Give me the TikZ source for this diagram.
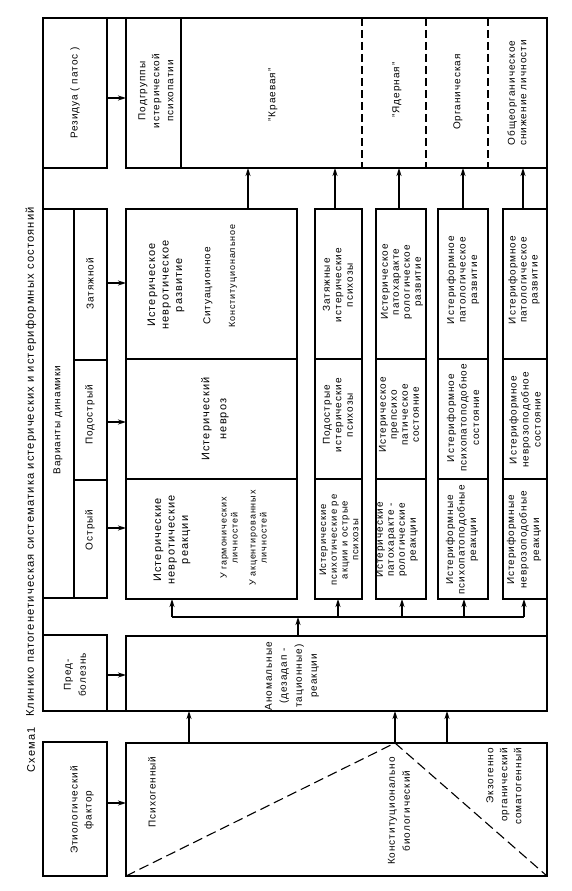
\documentclass[tikz,border=0pt]{standalone}
\usepackage{fontspec}
\setmainfont{Liberation Sans}[LetterSpace=10]
\usetikzlibrary{arrows.meta}
\begin{document}
\begin{tikzpicture}[x=1pt,y=-1pt,
  bx/.style={draw, line width=1.3pt, inner sep=0pt, outer sep=0pt},
  ln/.style={line width=1.3pt},
  dl/.style={line width=1.1pt, dash pattern=on 8pt off 4pt},
  tri/.style={line width=1.1pt, dash pattern=on 10pt off 5pt},
  arr/.style={-{Stealth[length=8pt,width=5pt]}, line width=1.5pt},
  bar/.style={line width=1.5pt},
  lbl/.style={rotate=90, align=center, inner sep=0pt, font=\fontsize{10}{11.5}\selectfont},
  lbig/.style={lbl, font=\fontsize{11}{13.5}\selectfont},
  lsmall/.style={lbl, font=\fontsize{9}{11}\selectfont},
]
\useasboundingbox (0,0) rectangle (572,891);
\fill[white] (0,0) rectangle (572,891);

% title
\node[lbl, font=\fontsize{11}{12}\selectfont] (t1) at (31,750) {Схема1};
\node[lbl, font=\fontsize{11.2}{12}\selectfont] (t2) at (31,462) {Клинико патогенетическая систематика истерических и истериформных состояний};

% outer frame
\draw[ln] (43,18) rectangle (547,711);

% header boxes
\node[bx, minimum width=64pt, minimum height=150pt] (hRes) at (75,93) {};
\node[bx, minimum width=64pt, minimum height=389pt] (hDyn) at (75,403.5) {};
\node[bx, minimum width=64pt, minimum height=76pt] (hPre) at (75,673) {};
\node[bx, minimum width=64pt, minimum height=134pt] (hEti) at (75,809) {};
\draw[ln] (74,209) -- (74,598);
\draw[ln] (74,360) -- (107,360);
\draw[ln] (74,480) -- (107,480);

% body boxes
\node[bx, minimum width=421pt, minimum height=150pt] (res) at (336.5,93) {};
\draw[ln] (181,18) -- (181,168);
\draw[dl] (362,18) -- (362,168);
\draw[dl] (426,18) -- (426,168);
\draw[dl] (488,18) -- (488,168);

\node[bx, minimum width=171pt, minimum height=390pt] (r1) at (211.5,404) {};
\node[bx, minimum width=47pt, minimum height=390pt] (r2) at (338.5,404) {};
\node[bx, minimum width=50pt, minimum height=390pt] (r3) at (401,404) {};
\node[bx, minimum width=50pt, minimum height=390pt] (r4) at (463,404) {};
\node[bx, minimum width=44pt, minimum height=390pt] (r5) at (525,404) {};
\foreach \a/\b in {126/297,315/362,376/426,438/488,503/547}{
  \draw[ln] (\a,359) -- (\b,359);
  \draw[ln] (\a,479) -- (\b,479);
}

\node[bx, minimum width=421pt, minimum height=75pt] (pre) at (336.5,673.5) {};
\node[bx, minimum width=421pt, minimum height=133pt] (eti) at (336.5,809.5) {};
\coordinate (peak) at (395,743);
\draw[tri] (eti.south west) -- (peak) -- (eti.south east);

% header arrows
\foreach \yy/\s/\t in {98/hRes/res, 283/hDyn/r1, 422/hDyn/r1, 528/hDyn/r1, 675/hPre/pre, 803/hEti/eti}{
  \coordinate (hy) at (0,\yy);
  \draw[arr] (\s.east |- hy) -- (\t.west |- hy);
}

% etiology -> pre
\foreach \xx in {189,395,447}{
  \coordinate (ex) at (\xx,0);
  \draw[arr] (eti.north -| ex) -- (pre.south -| ex);
}

% pre -> bar -> rows
\coordinate (b1) at (172,617);
\coordinate (b5) at (524,617);
\coordinate (bm) at (298,617);
\draw[bar] (b1) -- (b5);
\draw[arr] (pre.north -| bm) -- (bm);
\foreach \xx/\r in {172/r1,338/r2,402/r3,464/r4,524/r5}{
  \coordinate (bx) at (\xx,617);
  \draw[arr] (bx) -- (\r.south -| bx);
}

% rows -> residua
\foreach \xx/\r in {248/r1,335/r2,399/r3,463/r4,523/r5}{
  \coordinate (rx) at (\xx,0);
  \draw[arr] (\r.north -| rx) -- (res.south -| rx);
}

% header labels
\node[lbl] (lRes) at (75,93) {Резидуа ( патос )};
\node[lbl] (lDyn) at (58,420) {Варианты динамики};
\node[lbl] (lZat) at (90,284) {Затяжной};
\node[lbl] (lPod) at (90,415) {Подострый};
\node[lbl] (lOst) at (90,530) {Острый};
\node[lbl, font=\fontsize{10}{15}\selectfont] (lPre) at (75,675) {Пред-\\болезнь};
\node[lbl, font=\fontsize{10}{14}\selectfont] (lEti) at (82,810) {Этиологический\\фактор};

% residua labels
\node[lbl, font=\fontsize{10}{14}\selectfont] (s1) at (156,91) {Подгруппы\\истерической\\психопатии};
\node[lbl] (s2) at (273,95) {"Краевая"};
\node[lbl] (s3) at (397,90) {"Ядерная"};
\node[lbl] (s4) at (458,92) {Органическая};
\node[lbl] (s5) at (517,93) {Общеорганическое\\снижение личности};

% row 1
\node[lbig] (a1) at (166,285) {Истерическое\\невротическое\\развитие};
\node[lbl] (a2) at (208,286) {Ситуационное};
\node[lsmall] (a3) at (233,276) {Конституциональное};
\node[lbig, font=\fontsize{11}{17}\selectfont] (a4) at (215,419) {Истерический\\невроз};
\node[lbig] (a5) at (172,540) {Истерические\\невротические\\реакции};
\node[lsmall] (a6) at (229,538) {У гармонических\\личностей};
\node[lsmall] (a7) at (258,538) {У акцентированных\\личностей};

% row 2
\node[lbl] (b2z) at (338,285) {Затяжные\\истерические\\психозы};
\node[lbl] (b2p) at (338,415) {Подострые\\истерические\\психозы};
\node[lbl, font=\fontsize{9.5}{10.7}\selectfont] (b2o) at (339,540) {Истерические\\психотические ре\\акции и острые\\психозы};

% row 3
\node[lbl, font=\fontsize{10}{11}\selectfont] (b3z) at (402,282) {Истерическое\\патохаракте\\рологическое\\развитие};
\node[lbl, font=\fontsize{10}{11}\selectfont] (b3p) at (399,415) {Истерическое\\препсихо\\патическое\\состояние};
\node[lbl, font=\fontsize{10}{11}\selectfont] (b3o) at (397,540) {Истерические\\патохаракте -\\рологические\\реакции};

% row 4
\node[lbl] (b4z) at (463,280) {Истериформное\\патологическое\\развитие};
\node[lbl, font=\fontsize{10}{12.5}\selectfont] (b4p) at (463,418) {Истериформное\\психопатоподобное\\состояние};
\node[lbl] (b4o) at (462,540) {Истериформные\\психопатоподобные\\реакции};

% row 5
\node[lbl, font=\fontsize{10}{11}\selectfont] (b5z) at (524,280) {Истериформное\\патологическое\\развитие};
\node[lbl, font=\fontsize{10}{12}\selectfont] (b5p) at (525,420) {Истериформное\\неврозоподобное\\состояние};
\node[lbl, font=\fontsize{10}{12.5}\selectfont] (b5o) at (524,540) {Истериформные\\неврозоподобные\\реакции};

% pre
\node[lbl, font=\fontsize{10}{15}\selectfont] (pa) at (292,676) {Аномальные\\(дезадап -\\тационные)\\реакции};

% etiology
\node[lbl] (e1) at (152,792) {Психогенный};
\node[lbl, font=\fontsize{10}{15}\selectfont] (e2) at (399,811) {Конституционально\\биологический};
\node[lbl, font=\fontsize{10}{14}\selectfont, align=right, anchor=east] (e3) at (504,748) {Экзогенно\\органический\\соматогенный};
\end{tikzpicture}
\end{document}
